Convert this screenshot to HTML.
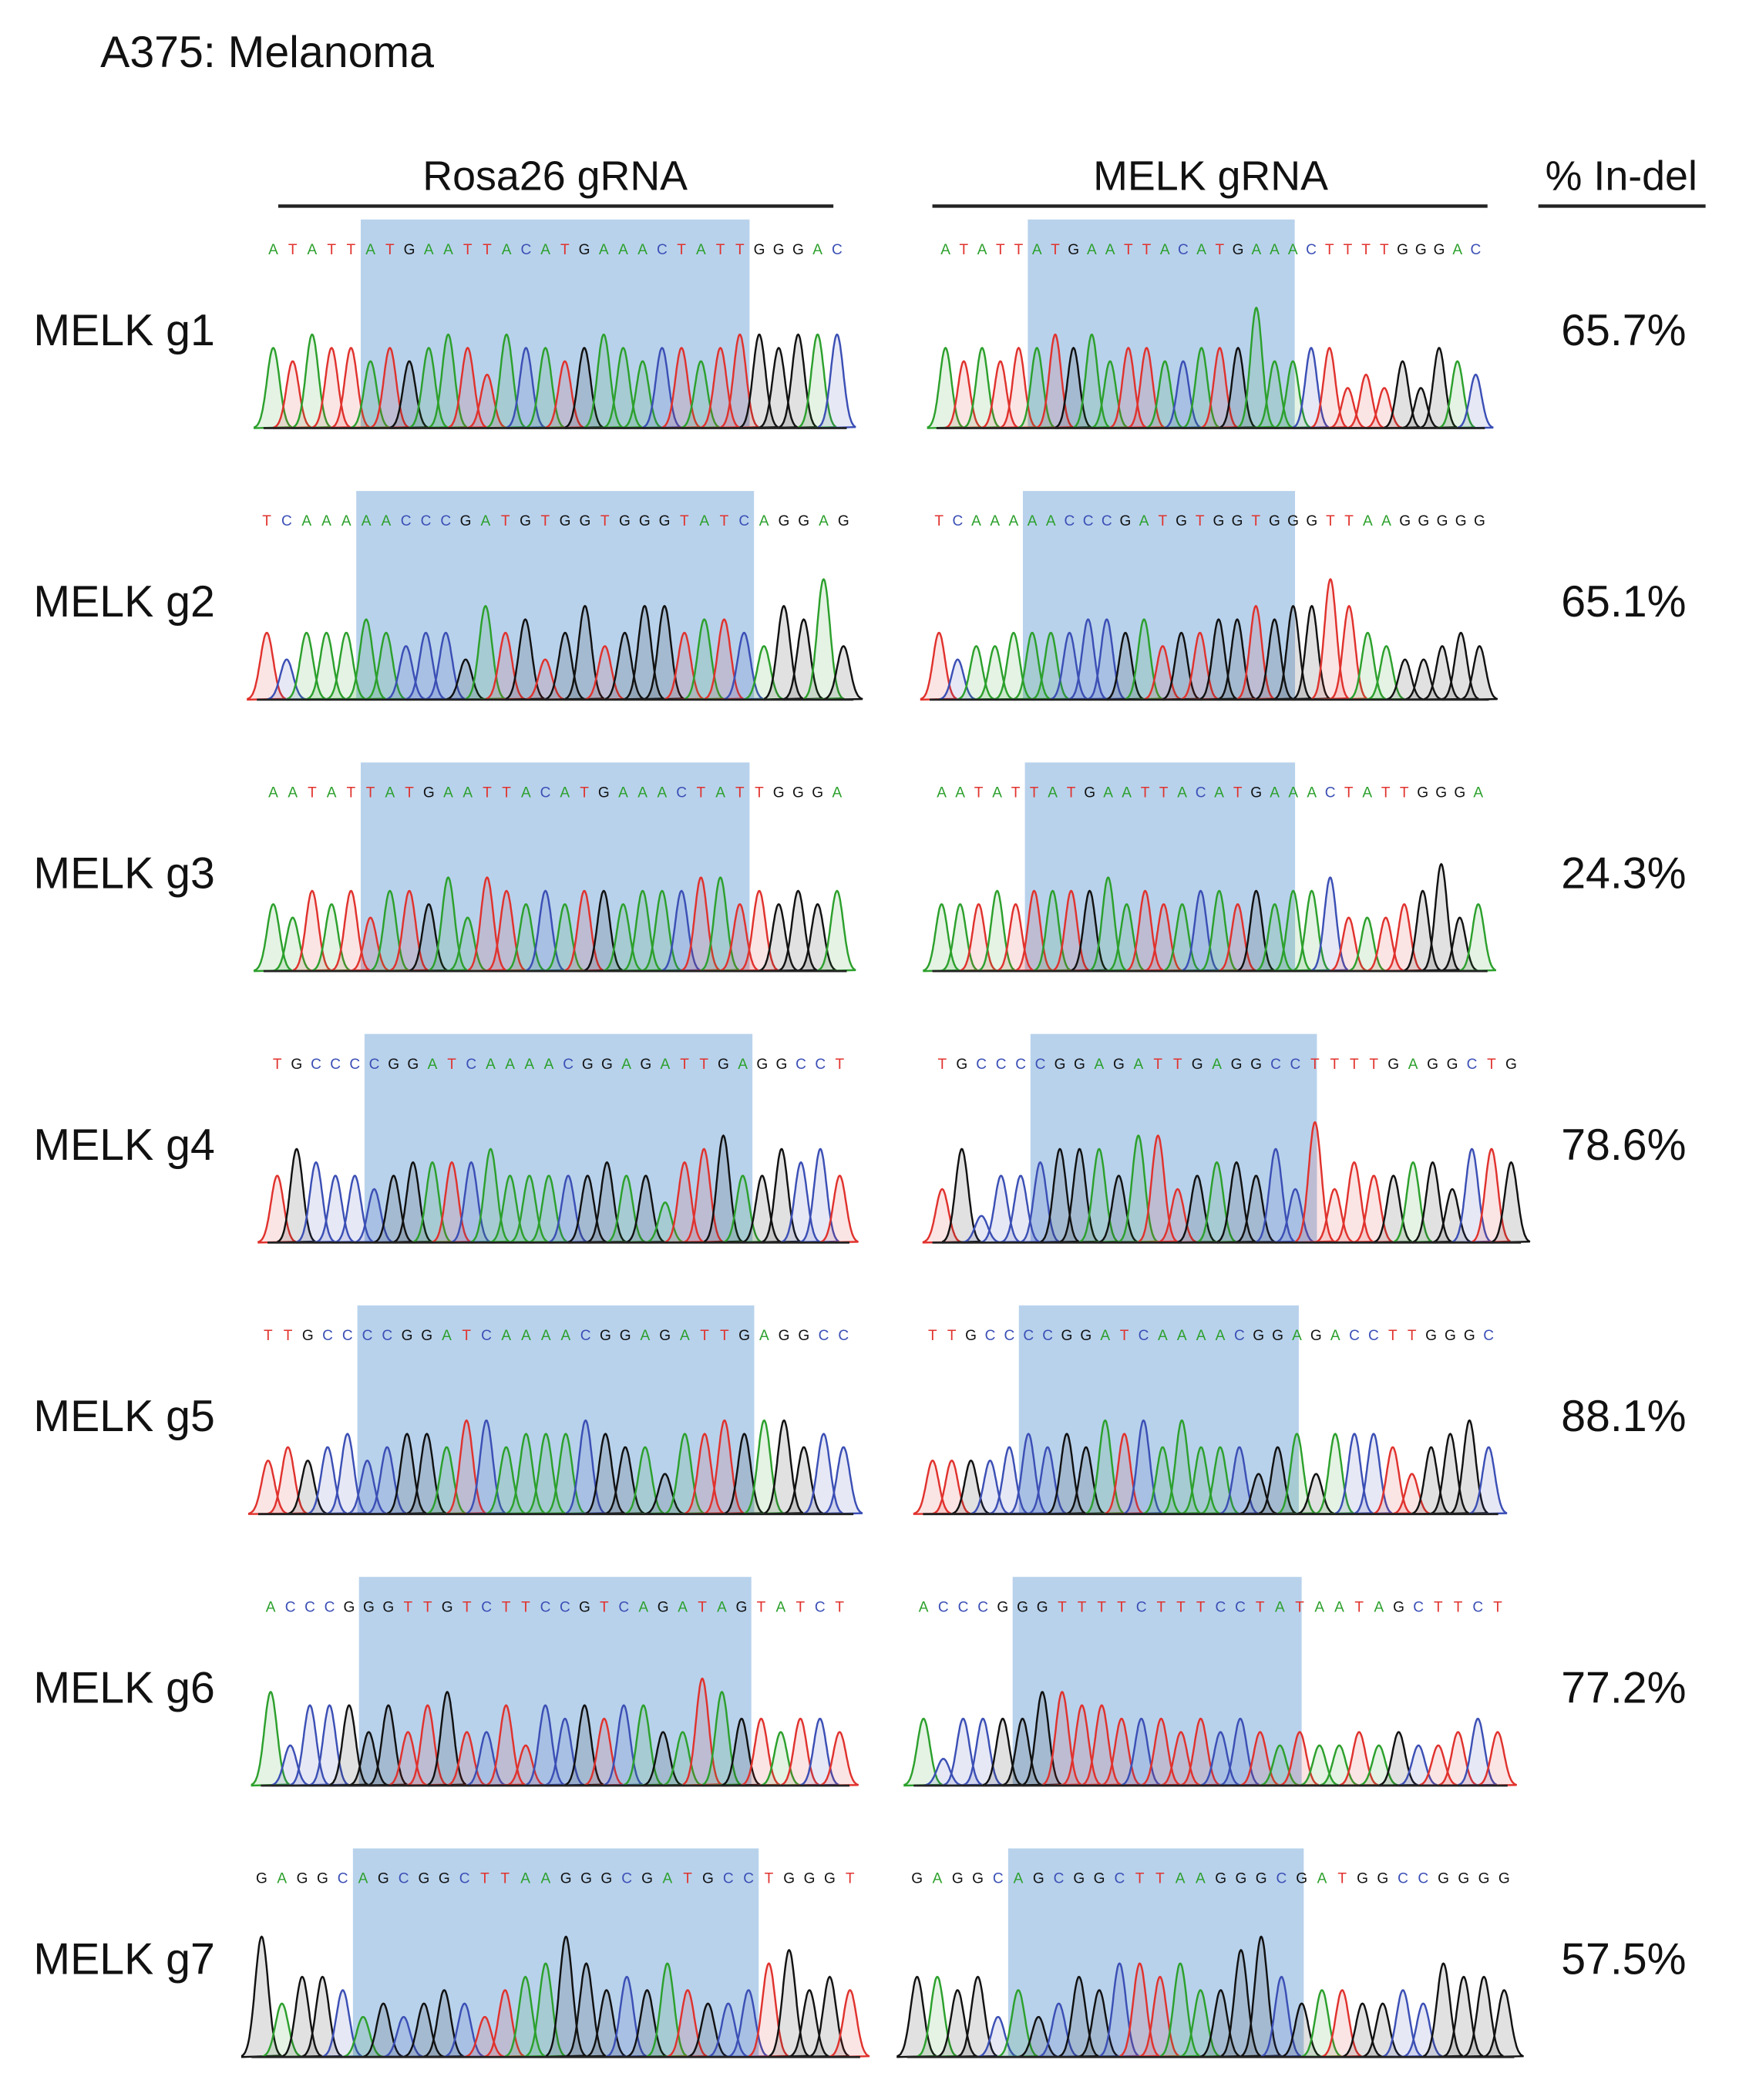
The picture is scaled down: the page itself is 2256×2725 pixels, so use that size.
<!DOCTYPE html>
<html><head><meta charset="utf-8">
<style>
html,body{margin:0;padding:0;background:#fff;}
svg{display:block;}
text{font-family:"Liberation Sans",Arial,sans-serif;}
</style></head>
<body>
<svg id="fig" width="2256" height="2725" viewBox="0 0 1300 1570" xmlns="http://www.w3.org/2000/svg">
<text x="75" y="50" font-size="33" fill="#111">A375: Melanoma</text>
<text x="415" y="142" font-size="31" text-anchor="middle" fill="#111">Rosa26 gRNA</text>
<line x1="208" y1="154" x2="623" y2="154" stroke="#222" stroke-width="2.5"/>
<text x="905" y="142" font-size="31" text-anchor="middle" fill="#111">MELK gRNA</text>
<line x1="697" y1="154" x2="1112" y2="154" stroke="#222" stroke-width="2.5"/>
<text x="1212" y="142" font-size="31" text-anchor="middle" fill="#111">% In-del</text>
<line x1="1150" y1="154" x2="1275" y2="154" stroke="#222" stroke-width="2.5"/>
<g id="rows"></g>
</svg>
<script>
const rowLabels = ["MELK g1","MELK g2","MELK g3","MELK g4","MELK g5","MELK g6","MELK g7"];
const indelValues = ["65.7%","65.1%","24.3%","78.6%","88.1%","77.2%","57.5%"];
const leftSeqs = [
 "ATATTATGAATTACATGAAACTATTGGGAC",
 "TCAAAAACCCGATGTGGTGGGTATCAGGAG",
 "AATATTATGAATTACATGAAACTATTGGGA",
 "TGCCCCGGATCAAAACGGAGATTGAGGCCT",
 "TTGCCCCGGATCAAAACGGAGATTGAGGCC",
 "ACCCGGGTTGTCTTCCGTCAGATAGTATCT",
 "GAGGCAGCGGCTTAAGGGCGATGCCTGGGT"];
const rightSeqs = [
 "ATATTATGAATTACATGAAACTTTTGGGAC",
 "TCAAAAACCCGATGTGGTGGGTTAAGGGGG",
 "AATATTATGAATTACATGAAACTATTGGGA",
 "TGCCCCGGAGATTGAGGCCTTTTGAGGCTG",
 "TTGCCCCGGATCAAAACGGAGACCTTGGGC",
 "ACCCGGGTTTTCTTTCCTATAATAGCTTCT",
 "GAGGCAGCGGCTTAAGGGCGATGGCCGGGG"];
const leftHeights = [
 "657665656764766567656656776777",
 "535556545537563574577566547694",
 "546564665747656566566677565656",
 "576554566667555556553678557675",
 "454564566577566676553667677565",
 "736664646744636565664487554554",
 "946653434543567975657544578565"];
const rightHeights = [
 "656566767566556669556634353654",
 "534455556656455667677975433454",
 "555656666756556656566744456845",
 "472556777588456657494655664776",
 "444456565767575553563666535675",
 "525555776655545454343343433454",
 "665635346577675589645544547665"];
const leftShade = [[5,25],[5,25],[5,25],[5,25],[5,25],[5,25],[5,25]];
const rightShade = [[5,19.6],[5,19.6],[5,19.6],[5,19.6],[5,19.6],[5,19.6],[5,19.6]];
</script>
<script>
const NS="http://www.w3.org/2000/svg";
const colors={A:"#2ca02c",C:"#3b4fb5",G:"#111111",T:"#e0322d"};
const fills={A:"rgba(44,160,44,0.13)",C:"rgba(59,79,181,0.13)",G:"rgba(40,40,40,0.14)",T:"rgba(224,50,45,0.13)"};
const leftBox=[[197,633],[192,638],[197,633],[200,635],[193,638],[195,635],[188,643]];
const rightBox=[[700,1110],[695,1113],[697,1112],[697,1137],[690,1120],[683,1127],[678,1132]];
const root=document.getElementById('rows');
function el(tag,attrs,parent){const e=document.createElementNS(NS,tag);for(const k in attrs)e.setAttribute(k,attrs[k]);parent.appendChild(e);return e;}
function panel(g,seq,heights,shade,box,seqY,base,name){
  const pg=el('g',{},g);
  
  
  const n=seq.length, x0=box[0], w=box[1]-box[0], sp=w/n;
  const xAt=i=>x0+(i+0.5)*sp;
  const sx=x0+shade[0]*sp, ex=x0+shade[1]*sp;
  const r=el('rect',{x:sx,y:seqY-22,width:ex-sx,height:base-(seqY-22),fill:"#b8d2ec"},pg);
  
  
  for(let i=0;i<n;i++){
    const b=seq[i];
    const t=el('text',{x:xAt(i),y:seqY+4,'font-size':11,'text-anchor':'middle',fill:colors[b]},pg);
    t.textContent=b;
    
    
  }
  const sig=sp*0.32;
  for(let i=0;i<n;i++){
    const b=seq[i], h=parseInt(heights[i])*10, cx=xAt(i);
    let d="M"+(cx-3*sig).toFixed(1)+" "+base;
    for(let k=-30;k<=30;k++){const x=cx+k*sig/10;const y=base-h*Math.exp(-0.5*(k/10)*(k/10));d+=" L"+x.toFixed(1)+" "+y.toFixed(1);}
    d+=" Z";
    const p=el('path',{d:d,fill:fills[b],stroke:colors[b],'stroke-width':1.4},pg);
    
    
  }
  const bl=el('line',{x1:x0,y1:base,x2:box[1],y2:base,stroke:"#222",'stroke-width':1.6},pg);
  
  
}
for(let r=0;r<rowLabels.length;r++){
  const off=r*203;
  const g=el('g',{},root);
  
  
  const lab=el('text',{x:25,y:258+off,'font-size':33,fill:"#111"},g);
  lab.textContent=rowLabels[r];
  
  
  const pct=el('text',{x:1167,y:258+off,'font-size':33,fill:"#111"},g);
  pct.textContent=indelValues[r];
  
  
  panel(g,leftSeqs[r],leftHeights[r],leftShade[r],leftBox[r],186+off,320+off,'rosa26-chromatogram');
  panel(g,rightSeqs[r],rightHeights[r],rightShade[r],rightBox[r],186+off,320+off,'melk-chromatogram');
}
</script>
</body></html>
